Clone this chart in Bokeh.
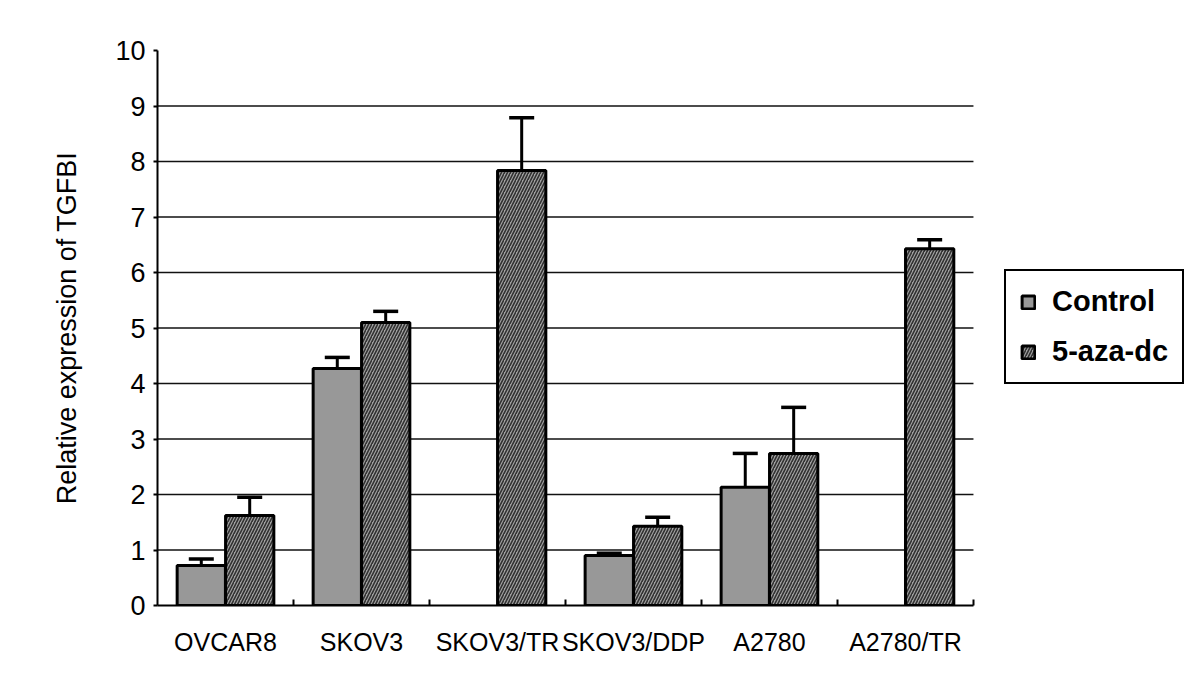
from bokeh.plotting import figure
from bokeh.models import (ColumnDataSource, Range1d, Whisker, TeeHead,
                          Legend, LegendItem, FixedTicker)
from bokeh.embed import file_html
from bokeh.resources import INLINE

categories = ["OVCAR8", "SKOV3", "SKOV3/TR", "SKOV3/DDP", "A2780", "A2780/TR"]
control = [0.72, 4.27, 0.0, 0.90, 2.13, 0.0]
control_err = [0.12, 0.20, 0.0, 0.04, 0.61, 0.0]
aza = [1.62, 5.10, 7.84, 1.43, 2.74, 6.43]
aza_err = [0.33, 0.20, 0.95, 0.16, 0.83, 0.16]
y_ticks = list(range(0, 11))

FONT = "Liberation Sans"
N = len(categories)
OFF = 0.178
W = 0.355
centers = [i + 0.5 for i in range(N)]

ctrl_idx = [i for i, v in enumerate(control) if v > 0]
src_c = ColumnDataSource(dict(
    x=[centers[i] - OFF for i in ctrl_idx],
    val=[control[i] for i in ctrl_idx],
    up=[control[i] + control_err[i] for i in ctrl_idx],
))
src_a = ColumnDataSource(dict(
    x=[c + OFF for c in centers],
    val=aza,
    up=[a + e for a, e in zip(aza, aza_err)],
))

# frame spans the plot area plus the legend area on the right
p = figure(x_range=Range1d(0, 7.596), y_range=Range1d(0, 10),
           width=1192, height=674, output_backend="svg", toolbar_location=None,
           min_border_left=157, min_border_right=2, min_border_top=50,
           min_border_bottom=69)
p.outline_line_color = None
p.background_fill_color = "white"
p.xgrid.grid_line_color = None
p.ygrid.grid_line_color = None

# horizontal gridlines limited to the category area
p.segment(x0=[0] * 9, x1=[N] * 9, y0=y_ticks[1:-1], y1=y_ticks[1:-1],
          line_color="#111111", line_width=1.6, level="underlay")

rc = p.vbar(x="x", top="val", width=W, source=src_c,
            fill_color="#989898", line_color="black", line_width=3)
ra = p.vbar(x="x", top="val", width=W, source=src_a,
            fill_color="#a0a0a0", line_color="black", line_width=3,
            hatch_pattern="right_diagonal_line", hatch_color="#303030",
            hatch_scale=6, hatch_weight=1.6)

for src in (src_c, src_a):
    w = Whisker(base="x", upper="up", lower="val",
                source=src, dimension="height", line_color="black", line_width=3,
                upper_head=TeeHead(size=25, line_width=3.5, line_color="black"),
                lower_head=None)
    p.add_layout(w)

p.yaxis.ticker = FixedTicker(ticks=y_ticks)
p.yaxis.axis_label = "Relative expression of TGFBI"
p.yaxis.axis_label_text_font = FONT
p.yaxis.axis_label_text_font_style = "normal"
p.yaxis.axis_label_text_font_size = "27px"
p.yaxis.axis_label_text_color = "black"
p.yaxis.axis_label_standoff = 30
p.yaxis.major_label_text_font = FONT
p.yaxis.major_label_text_font_size = "27px"
p.yaxis.major_label_text_color = "black"
p.yaxis.major_label_standoff = 8
p.yaxis.major_tick_out = 4
p.yaxis.major_tick_in = 0
p.yaxis.minor_tick_line_color = None
p.yaxis.axis_line_width = 2
p.yaxis.major_tick_line_width = 2

p.xaxis.ticker = FixedTicker(ticks=centers, minor_ticks=list(range(1, N + 1)))
p.xaxis.major_label_overrides = {c: cat for c, cat in zip(centers, categories)}
p.xaxis.bounds = (0, N)
p.xaxis.major_tick_line_color = None
p.xaxis.minor_tick_in = 6
p.xaxis.minor_tick_out = 0
p.xaxis.minor_tick_line_width = 2
p.xaxis.minor_tick_line_color = "black"
p.xaxis.major_label_text_font = FONT
p.xaxis.major_label_text_font_size = "25px"
p.xaxis.major_label_text_color = "black"
p.xaxis.major_label_standoff = 16
p.xaxis.axis_line_width = 2

legend = Legend(items=[LegendItem(label="Control", renderers=[rc]),
                       LegendItem(label="5-aza-dc", renderers=[ra])],
                location=(847, 221), orientation="vertical")
legend.label_text_font = FONT
legend.label_text_font_style = "bold"
legend.label_text_font_size = "29px"
legend.label_text_color = "black"
legend.label_height = 32
legend.glyph_width = 16
legend.glyph_height = 16
legend.label_standoff = 16
legend.spacing = 17
legend.padding = 14
legend.margin = 0
legend.border_line_color = "black"
legend.border_line_alpha = 1
legend.border_line_width = 2
legend.background_fill_alpha = 1
p.add_layout(legend, "center")

open("out.html", "w").write(file_html(p, INLINE))
